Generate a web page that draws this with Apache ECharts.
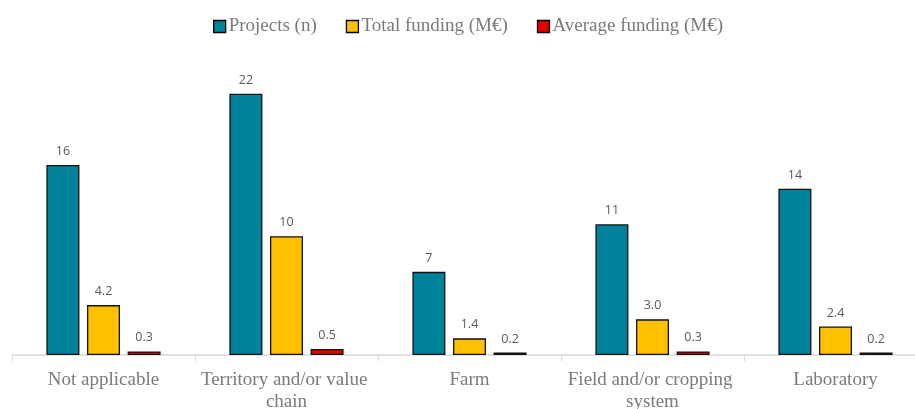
<!DOCTYPE html>
<html><head><meta charset="utf-8">
<script src="https://cdn.jsdelivr.net/npm/echarts@6/dist/echarts.min.js"></script>
<style>html,body{margin:0;padding:0;background:#fff;overflow:hidden;width:915px;height:409px}#c{width:927px;height:409px}</style>
</head><body><div id="c"></div>
<script>
const categories = ["Not applicable", "Territory and/or value chain", "Farm", "Field and/or cropping system", "Laboratory"];
const projects = [16, 22, 7, 11, 14];
const totalFunding = [4.2, 10, 1.4, 3.0, 2.4];
const avgFunding = [0.3, 0.5, 0.2, 0.3, 0.2];
const seriesNames = ["Projects (n)", "Total funding (M\u20ac)", "Average funding (M\u20ac)"];
const colors = ["#00829B", "#FFC000", "#E00000"];

const chart = echarts.init(document.getElementById('c'), null, {renderer: 'canvas'});
const labelCfg = (fmt) => ({
  show: true, position: 'top', distance: 7,
  color: '#595959', fontFamily: 'Open Sans, Liberation Sans, sans-serif', fontSize: 12.5,
  formatter: fmt
});
const mk = (name, data, color, fmt) => ({
  name, type: 'bar', data,
  barWidth: 33, barGap: '23%',
  itemStyle: {color, borderColor: '#111', borderWidth: 1.3},
  label: labelCfg(fmt)
});
chart.setOption({
  animation: false,
  legend: {
    top: 17, left: 213, padding: 0, itemWidth: 12, itemHeight: 12, itemGap: 29,
    textStyle: {fontFamily: 'Liberation Serif, Times New Roman, serif', fontSize: 19, color: '#7a7a7a', padding: [0, 0, 0, -2]},
    data: seriesNames.map((n, i) => ({name: n, icon: 'rect', itemStyle: {color: colors[i], borderColor: '#000', borderWidth: 1.3}}))
  },
  grid: {left: 12, right: 0, top: 58, height: 297, outerBoundsMode: 'none', containLabel: false},
  xAxis: {
    type: 'category', data: categories,
    axisLine: {lineStyle: {color: '#D9D9D9', width: 1.5}},
    axisTick: {show: true, length: 6, lineStyle: {color: '#D9D9D9'}},
    axisLabel: {
      interval: 0, margin: 14, width: 180, overflow: 'break', lineHeight: 22,
      fontFamily: 'Liberation Serif, Times New Roman, serif', fontSize: 19, color: '#7a7a7a'
    }
  },
  yAxis: {type: 'value', min: 0, max: 25, show: false, splitLine: {show: false}},
  series: [
    mk(seriesNames[0], projects, colors[0], p => String(p.value)),
    mk(seriesNames[1], totalFunding, colors[1], p => p.value >= 10 ? String(p.value) : p.value.toFixed(1)),
    mk(seriesNames[2], avgFunding, colors[2], p => p.value.toFixed(1))
  ]
});
</script></body></html>
